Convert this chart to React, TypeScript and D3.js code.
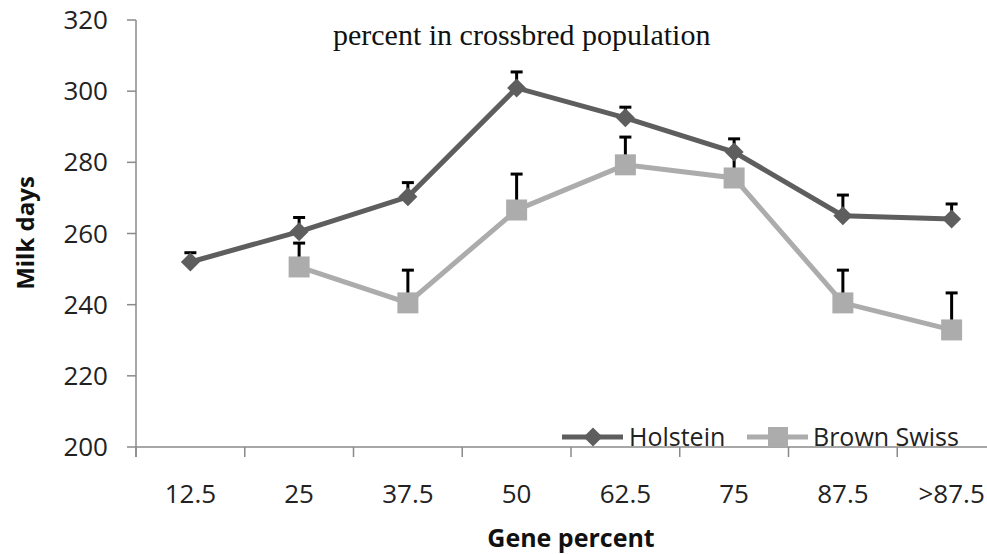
import * as d3 from 'd3';

// Milk days by gene percent (Holstein vs Brown Swiss), with upward error bars
const categories = ['12.5', '25', '37.5', '50', '62.5', '75', '87.5', '>87.5'];
const holstein = [252, 260.5, 270.3, 300.9, 292.5, 282.9, 265, 264.1];
const holsteinErr = [2.6, 4, 4, 4.5, 3, 3.7, 5.8, 4.2];
const brownSwiss: (number | null)[] = [null, 250.6, 240.5, 266.6, 279.3, 275.6, 240.5, 232.9];
const brownSwissErr: (number | null)[] = [null, 6.7, 9.2, 10.1, 7.8, 7, 9.2, 10.4];
const yTicks = [200, 220, 240, 260, 280, 300, 320];

const W = 987;
const H = 554;
const LEFT = 136;
const BAND = 108.75;
const TOP = 20;
const BOTTOM = 447;

const DARK = '#5e5e5e';
const LIGHT = '#acacac';
const AXIS = '#8a8a8a';
const SANS = '"Open Sans", sans-serif';

export default function App() {
  const x = d3
    .scaleBand<string>()
    .domain(categories)
    .range([LEFT, LEFT + BAND * categories.length])
    .padding(0);
  const y = d3.scaleLinear().domain([200, 320]).range([BOTTOM, TOP]);
  const cx = (c: string) => (x(c) ?? 0) + x.bandwidth() / 2;

  const line = d3
    .line<[string, number | null]>()
    .defined((d) => d[1] !== null)
    .x((d) => cx(d[0]))
    .y((d) => y(d[1] as number));

  const hPairs = categories.map((c, i) => [c, holstein[i]] as [string, number | null]);
  const bPairs = categories.map((c, i) => [c, brownSwiss[i]] as [string, number | null]);

  const diamond = (px: number, py: number, s: number) =>
    `M${px},${py - s} L${px + s},${py} L${px},${py + s} L${px - s},${py} Z`;

  const errBar = (c: string, v: number | null, e: number | null, key: string) => {
    if (v === null || e === null) return null;
    const px = cx(c);
    const top = y(v + e);
    return (
      <g key={key} stroke="#000" strokeWidth={3}>
        <line x1={px} x2={px} y1={y(v)} y2={top} />
        <line x1={px - 6} x2={px + 6} y1={top} y2={top} />
      </g>
    );
  };

  const xTickPos = d3.range(categories.length + 1).map((i) => LEFT + i * BAND);

  return (
    <div style={{ position: 'fixed', left: 0, top: 0 }}>
      <svg width={W} height={H} style={{ display: 'block', background: '#fff' }}>
        {/* axes */}
        <line x1={LEFT} x2={LEFT} y1={TOP} y2={BOTTOM + 10} stroke={AXIS} strokeWidth={1.5} />
        <line x1={LEFT} x2={W} y1={BOTTOM} y2={BOTTOM} stroke={AXIS} strokeWidth={1.5} />
        {yTicks.map((t) => (
          <g key={t}>
            <line x1={LEFT - 9} x2={LEFT} y1={y(t)} y2={y(t)} stroke={AXIS} strokeWidth={1.5} />
            <text
              x={108}
              y={y(t)}
              dy="0.35em"
              textAnchor="end"
              fontFamily={SANS}
              fontSize={26}
              fill="#222"
            >
              {t}
            </text>
          </g>
        ))}
        {xTickPos.map((p) => (
          <line key={p} x1={p} x2={p} y1={BOTTOM} y2={BOTTOM + 10} stroke={AXIS} strokeWidth={1.5} />
        ))}
        {categories.map((c) => (
          <text key={c} x={cx(c)} y={503} textAnchor="middle" fontFamily={SANS} fontSize={26} fill="#222">
            {c}
          </text>
        ))}

        {/* axis titles */}
        <text
          transform={`translate(34,233) rotate(-90)`}
          textAnchor="middle"
          fontFamily={SANS}
          fontSize={24}
          fontWeight="bold"
          fill="#111"
        >
          Milk days
        </text>
        <text x={571} y={547} textAnchor="middle" fontFamily={SANS} fontSize={25} fontWeight="bold" fill="#111">
          Gene percent
        </text>
        <text x={333} y={45} fontFamily='"Liberation Serif", "Times New Roman", serif' fontSize={30} fill="#111">
          percent in crossbred population
        </text>

        {/* Brown Swiss series */}
        <path d={line(bPairs) ?? ''} fill="none" stroke={LIGHT} strokeWidth={5} />
        {categories.map((c, i) => errBar(c, brownSwiss[i], brownSwissErr[i], 'be' + c))}
        {categories.map((c, i) =>
          brownSwiss[i] === null ? null : (
            <rect
              key={'bm' + c}
              x={cx(c) - 10.5}
              y={y(brownSwiss[i] as number) - 10.5}
              width={21}
              height={21}
              fill={LIGHT}
            />
          )
        )}

        {/* Holstein series */}
        <path d={line(hPairs) ?? ''} fill="none" stroke={DARK} strokeWidth={5} />
        {categories.map((c, i) => errBar(c, holstein[i], holsteinErr[i], 'he' + c))}
        {categories.map((c, i) => (
          <path key={'hm' + c} d={diamond(cx(c), y(holstein[i]), 9.5)} fill={DARK} />
        ))}

        {/* legend */}
        <g>
          <line x1={562} x2={623} y1={437} y2={437} stroke={DARK} strokeWidth={5} />
          <path d={diamond(593, 437, 9.5)} fill={DARK} />
          <text x={629} y={446} fontFamily={SANS} fontSize={25} fill="#222">
            Holstein
          </text>
          <line x1={747} x2={808} y1={437} y2={437} stroke={LIGHT} strokeWidth={5} />
          <rect x={768} y={427} width={20} height={20} fill={LIGHT} />
          <text x={813} y={446} fontFamily={SANS} fontSize={25} fill="#222">
            Brown Swiss
          </text>
        </g>
      </svg>
    </div>
  );
}
